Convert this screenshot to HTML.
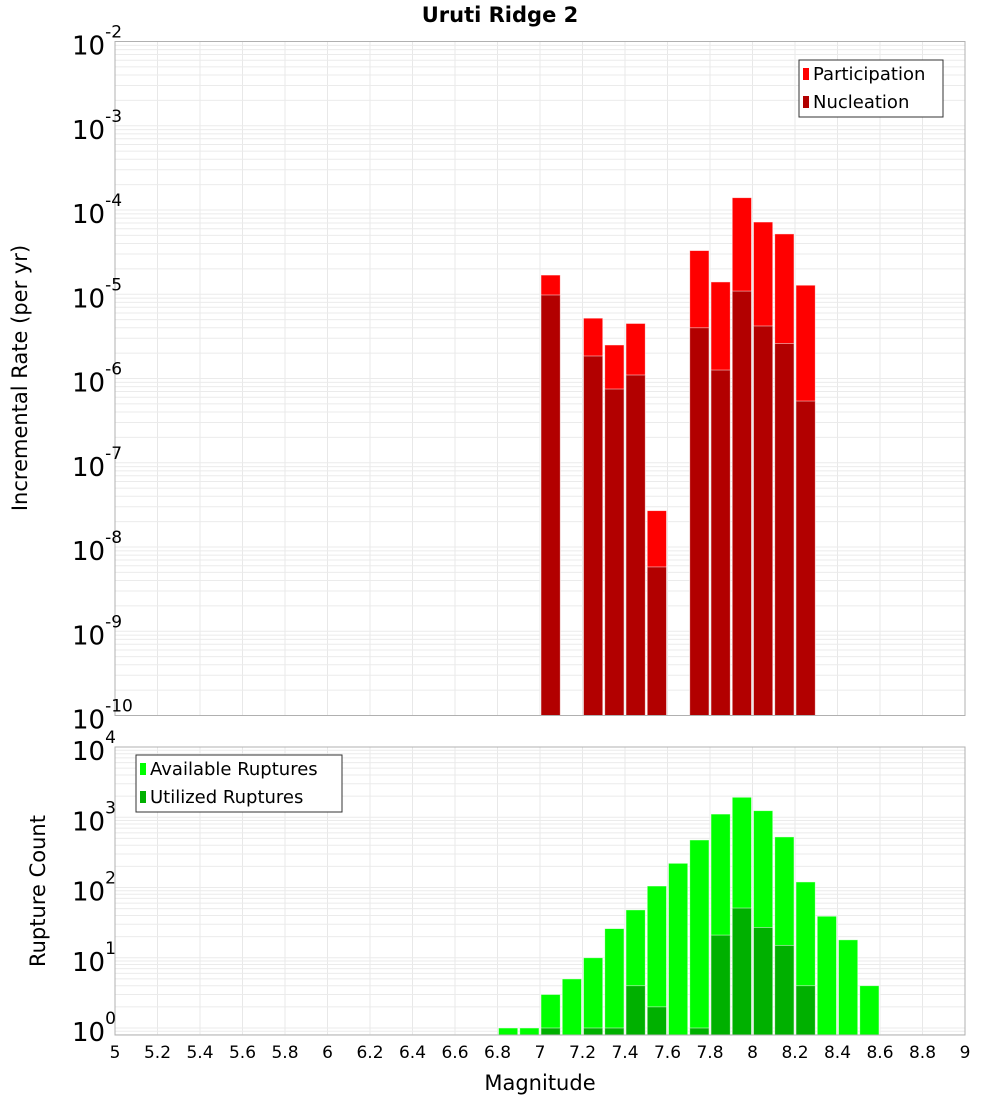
<!DOCTYPE html>
<html><head><meta charset="utf-8"><style>
body{margin:0;background:#fff;}
svg{display:block;font-family:"DejaVu Sans","Liberation Sans",sans-serif;}
</style></head><body>
<svg id="c" width="1000" height="1100" xmlns="http://www.w3.org/2000/svg"></svg>
<script>
const mags=[6.85,6.95,7.05,7.15,7.25,7.35,7.45,7.55,7.65,7.75,7.85,7.95,8.05,8.15,8.25,8.35,8.45,8.55];
const participation=[0,0,1.69e-5,0,5.2e-6,2.5e-6,4.5e-6,2.7e-8,0,3.3e-5,1.4e-5,1.4e-4,7.2e-5,5.2e-5,1.28e-5,0,0,0];
const nucleation=[0,0,9.8e-6,0,1.85e-6,7.5e-7,1.1e-6,5.8e-9,0,4e-6,1.26e-6,1.09e-5,4.2e-6,2.6e-6,5.4e-7,0,0,0];
const available=[1,1,3,5,10,26,48,105,221,475,1110,1925,1240,525,120,39,18,4];
const utilized=[0,0,1,0,1,1,4,2,0,1,21,51,27,15,4,0,0,0];
const xTicks=[5,5.2,5.4,5.6,5.8,6,6.2,6.4,6.6,6.8,7,7.2,7.4,7.6,7.8,8,8.2,8.4,8.6,8.8,9];
const topExps=[-2,-3,-4,-5,-6,-7,-8,-9,-10];
const botExps=[4,3,2,1,0];

const NS="http://www.w3.org/2000/svg";
const svg=document.getElementById('c');
function el(t,a,p){const e=document.createElementNS(NS,t);for(const k in a)e.setAttribute(k,a[k]);(p||svg).appendChild(e);return e;}
const L=115,R=965;
const X=m=>L+(m-5)*(R-L)/4;
const T0=41.5,T1=715.5;
const yTop=v=>T0+(-2-Math.log10(v))*(T1-T0)/8;
const B0=747,B1=1035,bDec=70.25;
const yBot=v=>1028-Math.log10(v)*bDec;

function grid(y0,y1,yf,lo,hi){
  const g=el('g',{});
  
  for(const t of xTicks){el('line',{x1:X(t),x2:X(t),y1:y0,y2:y1,stroke:'#e8e8e8','stroke-width':1},g);}
  for(let e=lo;e<hi;e++)for(let k=1;k<10;k++){const y=yf(k*Math.pow(10,e));if(y>=y0&&y<=y1)el('line',{x1:L,x2:R,y1:y,y2:y,stroke:'#ebebeb','stroke-width':1},g);}
}
grid(T0,T1,yTop,-10,-2);
grid(B0,B1,yBot,-1,4);

function bars(vals,yf,base,color,name){
  const g=el('g',{});
  
  vals.forEach((v,i)=>{if(!v)return;const y=yf(v);const x=X(mags[i]-0.05);const w=X(mags[i]+0.05)-x;
    const r=el('rect',{x:x+1,y:y,width:w-2,height:base-y,fill:color,stroke:'#ffffff','stroke-opacity':0.6,'stroke-width':0.8},g);
    });
}
bars(participation,yTop,T1,'#ff0000','participation');
bars(nucleation,yTop,T1,'#b20000','nucleation');
bars(available,yBot,B1,'#00ff00','available');
bars(utilized,yBot,B1,'#00b000','utilized');

el('rect',{x:L,y:T0,width:R-L,height:T1-T0,fill:'none',stroke:'#b0b0b0'});
el('rect',{x:L,y:B0,width:R-L,height:B1-B0,fill:'none',stroke:'#b0b0b0'});

function ylabel(exp,y,name){
  const t=el('text',{x:110,y:y+13,'text-anchor':'end','font-size':26,fill:'#000'});
  
  t.appendChild(document.createTextNode('10'));
  const s=el('tspan',{dy:-17,'font-size':17},t);s.textContent=String(exp);
  // place superscript after
  t.setAttribute('text-anchor','start');
  t.setAttribute('x',72);
}
topExps.forEach(e=>ylabel(e,yTop(Math.pow(10,e)),'top-y-tick'));
botExps.forEach(e=>ylabel(e,yBot(Math.pow(10,e)),'bottom-y-tick'));

xTicks.forEach(t=>{const tx=el('text',{x:X(t),y:1058,'text-anchor':'middle','font-size':17,fill:'#000'});tx.textContent=String(t);
  });

let t=el('text',{x:500,y:22,'text-anchor':'middle','font-size':21,'font-weight':'bold'});t.textContent='Uruti Ridge 2';
t=el('text',{x:540,y:1090,'text-anchor':'middle','font-size':21});t.textContent='Magnitude';
t=el('text',{x:0,y:0,'text-anchor':'middle','font-size':21,transform:'translate(27,378) rotate(-90)'});t.textContent='Incremental Rate (per yr)';
t=el('text',{x:0,y:0,'text-anchor':'middle','font-size':21,transform:'translate(45,891) rotate(-90)'});t.textContent='Rupture Count';

function legend(x,y,w,items,name){
  const g=el('g',{});
  el('rect',{x:x,y:y,width:w,height:57,fill:'#fff',stroke:'#333','stroke-width':1},g);
  items.forEach((it,i)=>{el('rect',{x:x+4,y:y+8+i*28,width:6,height:12,fill:it[1]},g);
    const tx=el('text',{x:x+14,y:y+20+i*28,'font-size':18},g);tx.textContent=it[0];
    });
}
legend(799,60,144,[['Participation','#ff0000'],['Nucleation','#b20000']],'top-legend');
legend(136,755,206,[['Available Ruptures','#00ff00'],['Utilized Ruptures','#00b000']],'bottom-legend');
</script>
</body></html>
